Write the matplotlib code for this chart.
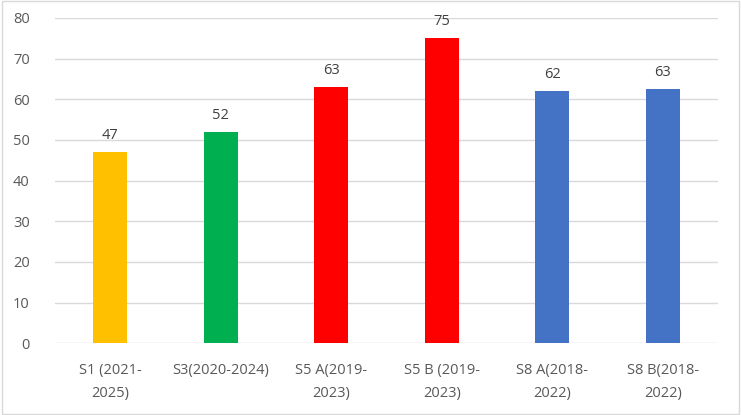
import matplotlib.pyplot as plt
from matplotlib.patches import Rectangle

categories = ['S1 (2021-\n2025)', 'S3(2020-2024)', 'S5 A(2019-\n2023)',
              'S5 B (2019-\n2023)', 'S8 A(2018-\n2022)', 'S8 B(2018-\n2022)']
values = [47, 52, 63, 75, 62, 62.6]
colors = ['#FFC000', '#00B050', '#FF0000', '#FF0000', '#4472C4', '#4472C4']
yticks = [0, 10, 20, 30, 40, 50, 60, 70, 80]

plt.rcParams['font.family'] = ['Open Sans', 'DejaVu Sans']
text_color = '#595959'

fig = plt.figure(figsize=(7.41, 4.15), dpi=100)
ax = fig.add_axes([0.074, 0.173, 0.895, 0.784])

x = range(len(categories))
bars = ax.bar(x, values, width=0.31, color=colors, zorder=3)
for b, v in zip(bars, values):
    ax.text(b.get_x() + b.get_width() / 2, v + 2.2, f'{v:.0f}',
            ha='center', va='bottom', fontsize=10.5, color='#404040')

ax.set_xlim(-0.5, len(categories) - 0.5)
ax.set_ylim(0, 80)
ax.set_yticks(yticks)
ax.set_xticks(list(x))
ax.set_xticklabels(categories, fontsize=10.5, color=text_color, linespacing=1.75)
ax.tick_params(axis='y', labelsize=10.5, labelcolor=text_color, length=0, pad=18)
ax.tick_params(axis='x', length=0, pad=14)
ax.grid(axis='y', color='#D9D9D9', linewidth=1, zorder=0)
for s in ax.spines.values():
    s.set_visible(False)

fig.patches.append(Rectangle((0.003, 0.003), 0.994, 0.994, transform=fig.transFigure,
                             fill=False, edgecolor='#D9D9D9', linewidth=1))

fig.savefig('out.png', dpi=100)
